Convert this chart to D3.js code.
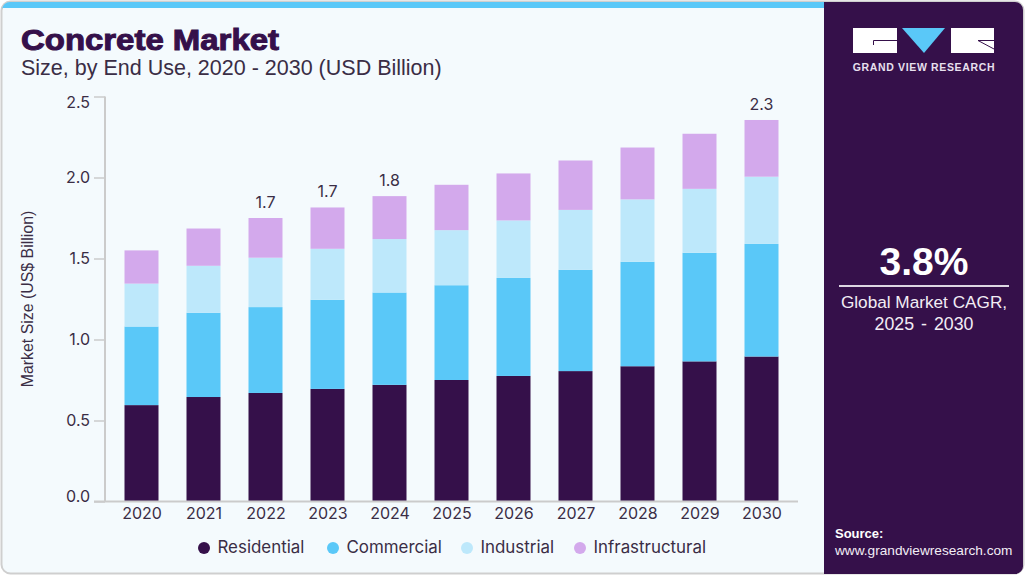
<!DOCTYPE html>
<html>
<head>
<meta charset="utf-8">
<script src="https://cdn.jsdelivr.net/npm/d3@7"></script>
<style>
html, body { margin: 0; padding: 0; background: #fff; }
svg { display: block; }
</style>
</head>
<body>
<script>
var years = ["2020", "2021", "2022", "2023", "2024", "2025", "2026", "2027", "2028", "2029", "2030"];
var seriesNames = ["Residential", "Commercial", "Industrial", "Infrastructural"];
var residential = [0.595, 0.645, 0.67, 0.695, 0.72, 0.75, 0.775, 0.805, 0.835, 0.865, 0.895];
var commercial = [0.485, 0.52, 0.53, 0.55, 0.57, 0.585, 0.605, 0.625, 0.645, 0.67, 0.695];
var industrial = [0.265, 0.29, 0.305, 0.315, 0.33, 0.34, 0.355, 0.37, 0.385, 0.395, 0.415];
var infrastructural = [0.205, 0.23, 0.245, 0.255, 0.265, 0.28, 0.29, 0.305, 0.32, 0.34, 0.35];
var totalLabels = { "2022": "1.7", "2023": "1.7", "2024": "1.8", "2030": "2.3" };
var yTicks = [0, 0.5, 1, 1.5, 2, 2.5];
var colors = ["#35104a", "#5ac8f8", "#bde8fb", "#d3a9ec"];

var inter = "Inter, 'Noto Sans', sans-serif";
var arial = "'Liberation Sans', Arial, sans-serif";
var ink = "#3a2d45";

var svg = d3.select("body").append("svg")
    .attr("width", 1025)
    .attr("height", 576);

// card
svg.append("rect")
    .attr("x", 1.5).attr("y", 1.5)
    .attr("width", 1022).attr("height", 572)
    .attr("rx", 9)
    .attr("fill", "#f4fafd")
    .attr("stroke", "#cfcfcf")
    .attr("stroke-width", 2);
svg.append("path")
    .attr("d", "M2 8V9A8 8 0 0 1 10 2H824V8Z")
    .attr("fill", "#5ac8f8");
svg.append("path")
    .attr("d", "M824 2H1015A8 8 0 0 1 1023 10V565A8 8 0 0 1 1015 574H824Z")
    .attr("fill", "#35104a");

// title
svg.append("text")
    .attr("x", 21).attr("y", 50)
    .attr("font-family", arial)
    .attr("font-size", 29)
    .attr("font-weight", 700)
    .attr("fill", "#35104a")
    .attr("stroke", "#35104a")
    .attr("stroke-width", 1)
    .attr("textLength", 258)
    .attr("lengthAdjust", "spacingAndGlyphs")
    .text("Concrete Market");
svg.append("text")
    .attr("x", 21).attr("y", 75)
    .attr("font-family", arial)
    .attr("font-size", 21.5)
    .attr("fill", ink)
    .text("Size, by End Use, 2020 - 2030 (USD Billion)");

// scales
var x = d3.scalePoint().domain(years).range([141.5, 761.5]);
var y = d3.scaleLinear().domain([0, 2.5]).range([501.5, 96.5]);
var barWidth = 34;

var rows = years.map(function (yr, i) {
    return {
        year: yr,
        Residential: residential[i],
        Commercial: commercial[i],
        Industrial: industrial[i],
        Infrastructural: infrastructural[i]
    };
});
var stacked = d3.stack().keys(seriesNames)(rows);

var g = svg.append("g");
stacked.forEach(function (layer, k) {
    g.append("g").selectAll("rect")
        .data(layer)
        .enter().append("rect")
        .attr("x", function (d) { return x(d.data.year) - barWidth / 2; })
        .attr("y", function (d) { return y(d[1]); })
        .attr("width", barWidth)
        .attr("height", function (d) { return y(d[0]) - y(d[1]); })
        .attr("fill", colors[k]);
});

// axes
var yAxis = d3.axisLeft(y)
    .tickValues(yTicks)
    .tickSize(11)
    .tickPadding(4)
    .tickFormat(d3.format(".1f"));
var yG = svg.append("g")
    .attr("transform", "translate(105,0)")
    .call(yAxis);
yG.select(".domain").attr("stroke", "#cbcbcb").attr("stroke-width", 2).attr("d", "M0,96.5V501.5");
yG.selectAll(".tick line").attr("stroke", "#cbcbcb").attr("stroke-width", 1.5);
// first and last labels sit inside the axis ends
yG.selectAll(".tick text")
    .attr("font-family", inter)
    .attr("font-size", 16)
    .attr("fill", ink)
    .attr("dy", function (d) { return d === 2.5 ? 11 : d === 0 ? -0.5 : 4.5; });

var xAxis = d3.axisBottom(x).tickSize(0).tickPadding(6);
var xG = svg.append("g")
    .attr("transform", "translate(0,501.5)")
    .call(xAxis);
xG.select(".domain").attr("stroke", "#cbcbcb").attr("stroke-width", 2).attr("d", "M94,0H798");
xG.selectAll(".tick text")
    .attr("font-family", inter)
    .attr("font-size", 16)
    .attr("fill", ink);

// axis title
svg.append("text")
    .attr("transform", "translate(33,299) rotate(-90)")
    .attr("text-anchor", "middle")
    .attr("font-family", arial)
    .attr("font-size", 15.9)
    .attr("fill", ink)
    .text("Market Size (US$ Billion)");

// labels on top of selected bars
var tops = stacked[stacked.length - 1];
svg.append("g").selectAll("text")
    .data(tops.filter(function (d) { return totalLabels[d.data.year]; }))
    .enter().append("text")
    .attr("x", function (d) { return x(d.data.year); })
    .attr("y", function (d) { return y(d[1]) - 10; })
    .attr("text-anchor", "middle")
    .attr("font-family", inter)
    .attr("font-size", 16)
    .attr("fill", ink)
    .text(function (d) { return totalLabels[d.data.year]; });

// legend
var legendX = [204, 333, 467, 580];
var legend = svg.append("g").selectAll("g")
    .data(seriesNames)
    .enter().append("g")
    .attr("transform", function (d, i) { return "translate(" + legendX[i] + ",548)"; });
legend.append("circle")
    .attr("r", 6)
    .attr("fill", function (d, i) { return colors[i]; });
legend.append("text")
    .attr("x", 13.5)
    .attr("y", 5)
    .attr("font-family", inter)
    .attr("font-size", 16.9)
    .attr("fill", ink)
    .text(function (d) { return d; });

// logo
svg.append("rect")
    .attr("x", 853).attr("y", 28)
    .attr("width", 44).attr("height", 25)
    .attr("fill", "#fff");
svg.append("path")
    .attr("d", "M897 40.5H873.5V45")
    .attr("fill", "none")
    .attr("stroke", "#35104a");
svg.append("path")
    .attr("d", "M902 28H945L924 53Z")
    .attr("fill", "#5ac8f8");
svg.append("rect")
    .attr("x", 951).attr("y", 28)
    .attr("width", 43).attr("height", 25)
    .attr("fill", "#fff");
svg.append("path")
    .attr("d", "M994 40.5H978L994 49")
    .attr("fill", "none")
    .attr("stroke", "#35104a");
svg.append("text")
    .attr("x", 924).attr("y", 71)
    .attr("text-anchor", "middle")
    .attr("font-family", arial)
    .attr("font-size", 10.5)
    .attr("font-weight", 700)
    .attr("letter-spacing", 0.65)
    .attr("fill", "#e8e0ee")
    .text("GRAND VIEW RESEARCH");

// side panel figures
svg.append("text")
    .attr("x", 924).attr("y", 275)
    .attr("text-anchor", "middle")
    .attr("font-family", arial)
    .attr("font-size", 39)
    .attr("font-weight", 700)
    .attr("fill", "#fff")
    .text("3.8%");
svg.append("line")
    .attr("x1", 839).attr("x2", 1009)
    .attr("y1", 286).attr("y2", 286)
    .attr("stroke", "#ddd6e3")
    .attr("stroke-width", 2);
svg.append("text")
    .attr("x", 924).attr("y", 308)
    .attr("text-anchor", "middle")
    .attr("font-family", arial)
    .attr("font-size", 17.2)
    .attr("fill", "#f2edf5")
    .text("Global Market CAGR,");
svg.append("text")
    .attr("x", 924).attr("y", 330)
    .attr("text-anchor", "middle")
    .attr("font-family", arial)
    .attr("font-size", 17.8)
    .attr("word-spacing", 2)
    .attr("fill", "#f2edf5")
    .text("2025 - 2030");

svg.append("text")
    .attr("x", 835).attr("y", 538)
    .attr("font-family", arial)
    .attr("font-size", 13)
    .attr("font-weight", 700)
    .attr("fill", "#fff")
    .text("Source:");
svg.append("text")
    .attr("x", 835).attr("y", 555)
    .attr("font-family", arial)
    .attr("font-size", 13.65)
    .attr("fill", "#f2edf5")
    .text("www.grandviewresearch.com");
</script>
</body>
</html>
